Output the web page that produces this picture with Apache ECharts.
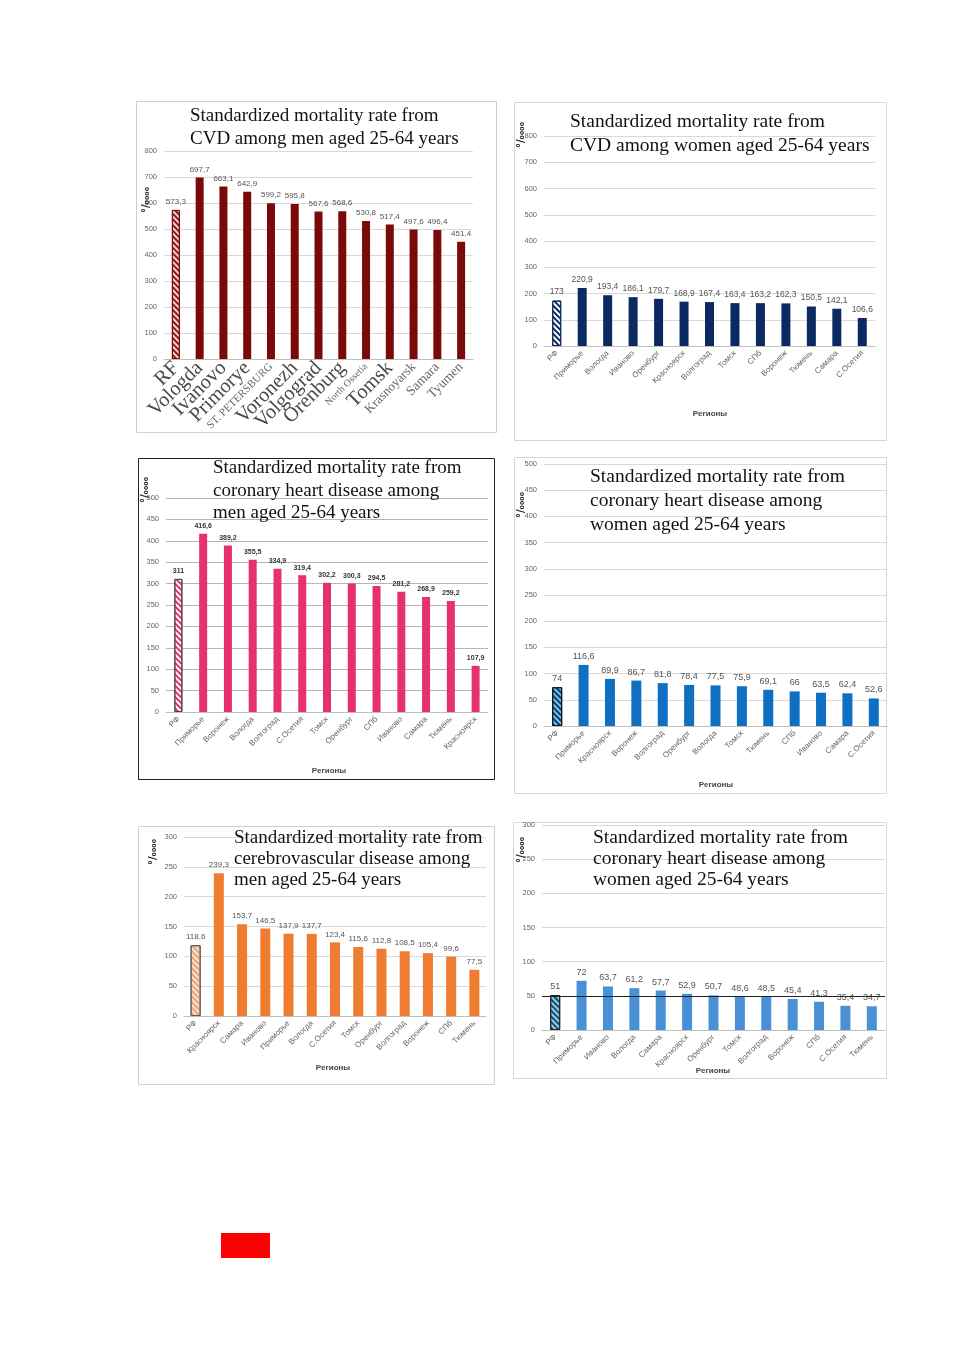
<!DOCTYPE html>
<html><head><meta charset="utf-8">
<script src="https://cdn.jsdelivr.net/npm/echarts@6/dist/echarts.min.js"></script>
<style>html,body{margin:0;padding:0;background:#fff}#c{width:954px;height:1350px}</style>
</head><body><div id="c"></div>
<script>
// ---------- DATA ----------
const cat1 = ['RF','Vologda','Ivanovo','Primorye','ST. PETERSBURG','Voronezh','Volgograd','Orenburg','North Ossetia','Tomsk','Krasnoyarsk','Samara','Tyumen'];
const val1 = [573.3,697.7,663.1,642.9,599.2,595.8,567.6,568.6,530.8,517.4,497.6,496.4,451.4];
const title1 = 'Standardized mortality rate from\nCVD among men aged 25-64 years';

const cat2 = ['РФ','Приморье','Вологда','Иваново','Оренбург','Красноярск','Волгоград','Томск','СПб','Воронеж','Тюмень','Самара','С.Осетия'];
const val2 = [173,220.9,193.4,186.1,179.7,168.9,167.4,163.4,163.2,162.3,150.5,142.1,106.6];
const title2 = 'Standardized mortality rate from\nCVD among women aged 25-64 years';

const cat3 = ['РФ','Приморье','Воронеж','Вологда','Волгоград','С.Осетия','Томск','Оренбург','СПб','Иваново','Самара','Тюмень','Красноярск'];
const val3 = [311,416.6,389.2,355.5,334.9,319.4,302.2,300.3,294.5,281.2,268.9,259.2,107.9];
const title3 = 'Standardized mortality rate from\ncoronary heart disease among\nmen aged 25-64 years';

const cat4 = ['РФ','Приморье','Красноярск','Воронеж','Волгоград','Оренбург','Вологда','Томск','Тюмень','СПб','Иваново','Самара','С.Осетия'];
const val4 = [74,116.6,89.9,86.7,81.8,78.4,77.5,75.9,69.1,66,63.5,62.4,52.6];
const title4 = 'Standardized mortality rate from\ncoronary heart disease among\nwomen aged 25-64 years';

const cat5 = ['РФ','Красноярск','Самара','Иваново','Приморье','Вологда','С.Осетия','Томск','Оренбург','Волгоград','Воронеж','СПб','Тюмень'];
const val5 = [118.6,239.3,153.7,146.5,137.9,137.7,123.4,115.6,112.8,108.5,105.4,99.6,77.5];
const title5 = 'Standardized mortality rate from\ncerebrovascular disease among\nmen aged 25-64 years';

const cat6 = ['РФ','Приморье','Иваново','Вологда','Самара','Красноярск','Оренбург','Томск','Волгоград','Воронеж','СПб','С.Осетия','Тюмень'];
const val6 = [51,72,63.7,61.2,57.7,52.9,50.7,48.6,48.5,45.4,41.3,35.4,34.7];
const title6 = 'Standardized mortality rate from\ncoronary heart disease among\nwomen aged 25-64 years';

const axisTitle = 'Регионы';
const unitText = '°/₀₀₀₀';

// ---------- LAYOUT / STYLE ----------
const NARROW = "'Liberation Sans Narrow','Liberation Sans',sans-serif";
const SERIF = "'Liberation Serif','DejaVu Serif',serif";
const panels = [
  {cat:cat1,val:val1,title:title1,grid:{left:164,top:151,width:309,height:208},max:800,interval:100,bw:8,
   color:'#7a0a0a',rfColor:'#f6cfcf',rfStripe:'#8a1a1a',rfBorder:'#7a0a0a',
   tx:190,ty:105,lh:23,fs:19,labelSize:8,labelColor:'#555',labelWeight:'normal',xlabSerif:true,
   unit:[146,200],regions:null,box:[136,101,360,331,'#cfcfcf']},
  {cat:cat2,val:val2,title:title2,grid:{left:544,top:136,width:331,height:210},max:800,interval:100,bw:9,
   color:'#0c2a62',rfColor:'#ffffff',rfStripe:'#0c2a62',rfBorder:'#0c2a62',
   tx:570,ty:110,lh:24,fs:19.5,labelSize:8.5,labelColor:'#555',labelWeight:'normal',
   unit:[521,135],regions:[710,414],box:[514,102,372,338,'#d6d6d6']},
  {cat:cat3,val:val3,title:title3,grid:{left:166,top:498,width:322,height:214},max:500,interval:50,bw:8,
   color:'#e6306f',rfColor:'#ffffff',rfStripe:'#e6306f',rfBorder:'#444',
   tx:213,ty:457,lh:22.5,fs:19,labelSize:7,labelColor:'#333',labelWeight:'bold',
   unit:[145,490],regions:[329,771],box:[138,458,356,321,'#222']},
  {cat:cat4,val:val4,title:title4,grid:{left:544,top:464,width:343,height:262},max:500,interval:50,bw:10,
   color:'#0f6fc0',rfColor:'#6cc4ef',rfStripe:'#0d3b66',rfBorder:'#111',
   tx:590,ty:465,lh:24,fs:19.5,labelSize:9,labelColor:'#555',labelWeight:'normal',
   unit:[521,505],regions:[716,785],box:[514,457,372,336,'#d6d6d6']},
  {cat:cat5,val:val5,title:title5,grid:{left:184,top:837,width:302,height:179},max:300,interval:50,bw:10,
   color:'#ee7d31',rfColor:'#fbe2d0',rfStripe:'#e9a47a',rfBorder:'#555',
   tx:234,ty:828,lh:21,fs:19,labelSize:8,labelColor:'#555',labelWeight:'normal',
   unit:[153,852],regions:[333,1068],box:[138,826,356,258,'#d0d0d0']},
  {cat:cat6,val:val6,title:title6,grid:{left:542,top:825,width:343,height:205},max:300,interval:50,bw:10,
   color:'#4a90d6',rfColor:'#8ad4ea',rfStripe:'#1c4a70',rfBorder:'#222',
   tx:593,ty:827,lh:21,fs:19.5,labelSize:9,labelColor:'#555',labelWeight:'normal',
   unit:[521,850],regions:[713,1071],box:[513,822,373,256,'#d6d6d6'],darkLine:50}
];

// big/small serif labels in first chart
const p1Size = {'ST. PETERSBURG':11,'North Ossetia':10,'Krasnoyarsk':13,'Samara':13.5,'Tyumen':13.5};

const grids=[],xAxes=[],yAxes=[],series=[],graphics=[];
panels.forEach((p,i)=>{
  grids.push(Object.assign({},p.grid));
  xAxes.push({
    type:'category',gridIndex:i,
    data:p.cat.map(c=>{
      if(p.xlabSerif){const s=p1Size[c]||20.5;return {value:c,textStyle:{fontSize:s,fontFamily:SERIF,color:s>15?'#4a4a4a':'#666'}};}
      return c;
    }),
    axisLine:{show:true,lineStyle:{color:'#bfbfbf'}},axisTick:{show:false},
    axisLabel:{interval:0,rotate:45,fontSize:8,color:'#666',fontFamily:NARROW,margin:6}
  });
  yAxes.push({
    type:'value',gridIndex:i,min:0,max:p.max,interval:p.interval,
    axisLine:{show:false},axisTick:{show:false},
    splitLine:{lineStyle:{color:i===2?'#b5b5b5':'#d9d9d9',width:1}},
    axisLabel:{fontSize:7.5,color:'#666',fontFamily:NARROW,margin:7}
  });
  series.push({
    type:'bar',xAxisIndex:i,yAxisIndex:i,barWidth:p.bw,
    data:p.val.map((v,k)=>k===0?{value:v,itemStyle:{color:p.rfColor,borderColor:p.rfBorder,borderWidth:1,
      decal:{symbol:'rect',symbolSize:1,dashArrayX:[1,0],dashArrayY:[2,2],rotation:Math.PI/4,color:p.rfStripe}}}:v),
    itemStyle:{color:p.color},
    label:{show:true,position:'top',distance:4,fontSize:p.labelSize,color:p.labelColor,fontWeight:p.labelWeight,
      fontFamily:NARROW,formatter:d=>String(d.value).replace('.',',')},
    markLine:p.darkLine?{silent:true,symbol:'none',label:{show:false},lineStyle:{color:'#222',type:'solid',width:1},data:[{yAxis:p.darkLine}]}:undefined,
    animation:false
  });
  const b=p.box;
  graphics.push({type:'rect',shape:{x:b[0]+0.5,y:b[1]+0.5,width:b[2],height:b[3]},style:{fill:'none',stroke:b[4],lineWidth:1},z:-1});
  graphics.push({type:'text',left:p.tx,top:p.ty,z:10,style:{text:p.title,font:p.fs+'px '+SERIF,fill:'#111',lineHeight:p.lh}});
  graphics.push({type:'text',x:p.unit[0],y:p.unit[1],rotation:Math.PI/2,z:10,
    style:{text:unitText,font:'bold 10px "DejaVu Sans",sans-serif',fill:'#222',align:'center',verticalAlign:'middle'}});
  if(p.regions) graphics.push({type:'text',x:p.regions[0],y:p.regions[1],z:10,
    style:{text:axisTitle,font:'bold 8px '+NARROW,fill:'#444',align:'center',verticalAlign:'middle'}});
});
graphics.push({type:'rect',shape:{x:221,y:1233,width:49,height:25},style:{fill:'#ff0000'}});

const chart=echarts.init(document.getElementById('c'),null,{renderer:'canvas'});
chart.setOption({animation:false,grid:grids,xAxis:xAxes,yAxis:yAxes,series:series,graphic:graphics});
</script></body></html>
